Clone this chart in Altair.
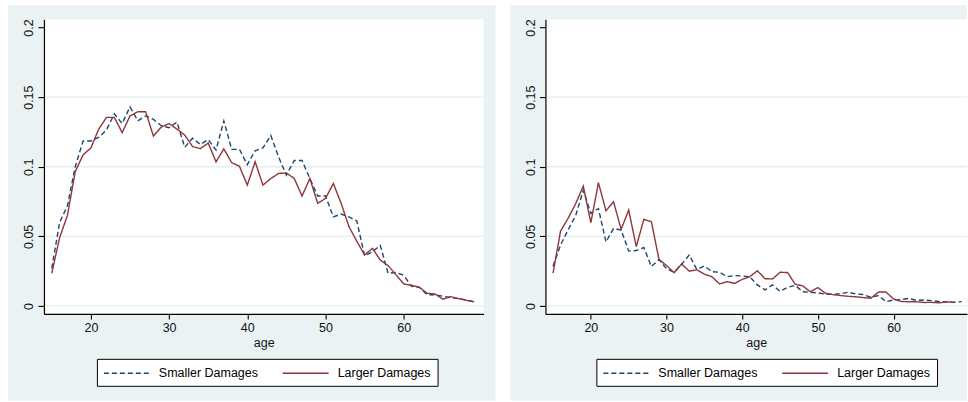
import altair as alt
import pandas as pd

# ---------------- data ----------------
SERIES = ["Smaller Damages", "Larger Damages"]

left_ages_small = list(range(15, 70))
left_small = [0.027, 0.060, 0.072, 0.100, 0.1185, 0.1185, 0.121, 0.1265, 0.138, 0.131,
              0.143, 0.133, 0.1365, 0.134, 0.1295, 0.128, 0.132, 0.114, 0.1205, 0.116,
              0.1195, 0.112, 0.133, 0.1125, 0.1125, 0.1015, 0.1115, 0.1135, 0.1225, 0.107,
              0.094, 0.1045, 0.1045, 0.0915, 0.079, 0.079, 0.064, 0.066, 0.064, 0.061,
              0.036, 0.039, 0.0435, 0.0235, 0.024, 0.022, 0.014, 0.0134, 0.008, 0.008,
              0.007, 0.006, 0.0053, 0.0043, 0.003]
left_ages_large = list(range(15, 70))
left_large = [0.0235, 0.049, 0.065, 0.0965, 0.1085, 0.1135, 0.127, 0.1355, 0.1355, 0.1245,
              0.1365, 0.1395, 0.1395, 0.122, 0.1285, 0.131, 0.127, 0.1228, 0.1145, 0.113,
              0.117, 0.1035, 0.1128, 0.103, 0.1003, 0.0868, 0.1036, 0.0868, 0.0915, 0.0952,
              0.0955, 0.0916, 0.079, 0.0916, 0.0737, 0.0773, 0.088, 0.0737, 0.057, 0.0465,
              0.0366, 0.0414, 0.033, 0.029, 0.0225, 0.0158, 0.0148, 0.0134, 0.0091, 0.0086,
              0.0048, 0.0067, 0.0053, 0.004, 0.003]

right_ages_small = list(range(15, 70))
right_small = [0.0285, 0.0438, 0.0547, 0.065, 0.083, 0.0665, 0.070, 0.046, 0.0557, 0.0545,
               0.0395, 0.0398, 0.042, 0.0283, 0.0333, 0.0267, 0.0242, 0.030, 0.0366, 0.0262,
               0.0287, 0.0246, 0.0242, 0.021, 0.0218, 0.0215, 0.021, 0.0151, 0.0115, 0.0151,
               0.0105, 0.0134, 0.0148, 0.0102, 0.0098, 0.0094, 0.0084, 0.0084, 0.0088, 0.0098,
               0.0086, 0.0082, 0.0062, 0.0075, 0.0031, 0.0043, 0.0046, 0.0054, 0.004, 0.0043,
               0.0038, 0.0032, 0.003, 0.0027, 0.0031]
right_ages_large = list(range(15, 69))
right_large = [0.0235, 0.0538, 0.063, 0.0735, 0.0861, 0.0598, 0.0885, 0.0684, 0.0749, 0.055,
               0.0689, 0.0426, 0.0622, 0.0605, 0.0335, 0.029, 0.0239, 0.0301, 0.025, 0.026,
               0.0228, 0.021, 0.0158, 0.0175, 0.0162, 0.0191, 0.021, 0.0253, 0.0196, 0.0194,
               0.0242, 0.024, 0.0156, 0.0144, 0.0102, 0.0132, 0.0091, 0.0081, 0.0075, 0.0069,
               0.0066, 0.006, 0.0055, 0.010, 0.010, 0.005, 0.0032, 0.003, 0.003, 0.0025,
               0.0026, 0.0022, 0.003, 0.0025]

X_TICKS = [20, 30, 40, 50, 60]
Y_TICKS = [0, 0.05, 0.1, 0.15, 0.2]
GRID_VALUES = [0, 0.05, 0.1, 0.15]

# ---------------- style ----------------
FONT = "Liberation Sans"
NAVY = "#1a476f"
MAROON = "#90353b"
BG = "#eaf2f3"
GRID = "#e4eef0"
H = 295
Y_DOMAIN = [-0.0057, 0.206]


def make_panel(ages_s, small, ages_l, large, W, xdom, bg_left, bg_right, legend_x):
    df = pd.concat([
        pd.DataFrame({"age": ages_s, "density": small, "series": SERIES[0]}),
        pd.DataFrame({"age": ages_l, "density": large, "series": SERIES[1]}),
    ], ignore_index=True)
    xs = alt.Scale(domain=xdom, nice=False, zero=False)
    ys = alt.Scale(domain=Y_DOMAIN, nice=False, zero=False)
    yaxis = alt.Axis(values=Y_TICKS, labelAngle=270, format="~g", zindex=2,
                     title=None, grid=False, labelPadding=2, tickSize=6)
    xaxis = alt.Axis(values=X_TICKS, title="age", grid=False, zindex=2,
                     labelPadding=3, titlePadding=2, tickSize=5)
    one = pd.DataFrame({"k": [0]})

    bg = alt.Chart(one).mark_rect(color=BG).encode(
        x=alt.value(bg_left), x2=alt.value(W + bg_right),
        y=alt.value(-14), y2=alt.value(H + 87))
    white = alt.Chart(one).mark_rect(color="white").encode(
        x=alt.value(0), x2=alt.value(W), y=alt.value(0), y2=alt.value(H))
    grid = alt.Chart(pd.DataFrame({"density": GRID_VALUES})).mark_rule(
        color=GRID, strokeWidth=1.3).encode(
        y=alt.Y("density:Q", scale=ys, axis=yaxis),
        x=alt.value(0), x2=alt.value(W))

    legend = alt.Legend(
        orient="none", legendX=legend_x, legendY=340, direction="horizontal",
        title=None, symbolType="M-1,0H5.13", symbolSize=225, symbolStrokeWidth=1.4,
        labelFont=FONT, labelFontSize=12.5, labelColor="black",
        strokeColor="black", fillColor="white", padding=6,
        columnPadding=21, labelOffset=39)

    base = alt.Chart(df).mark_line(strokeWidth=1.4).encode(
        x=alt.X("age:Q", scale=xs, axis=xaxis),
        y=alt.Y("density:Q", scale=ys, axis=yaxis),
        color=alt.Color("series:N", scale=alt.Scale(domain=SERIES, range=[NAVY, MAROON]),
                        legend=legend),
        strokeDash=alt.StrokeDash("series:N",
                                  scale=alt.Scale(domain=SERIES, range=[[5, 3], [1, 0]]),
                                  legend=legend),
    )
    blue = base.transform_filter(alt.datum.series == SERIES[0])
    red = base.transform_filter(alt.datum.series == SERIES[1])
    return alt.layer(bg, white, grid, blue, red).properties(width=W, height=H)


left = make_panel(left_ages_small, left_small, left_ages_large, left_large,
                  440, [14, 70.2], -36, 12, 53)
right = make_panel(right_ages_small, right_small, right_ages_large, right_large,
                   422, [14, 69.7], -35, 0, 51)

chart = alt.hconcat(left, right, spacing=15).resolve_scale(
    color="independent", strokeDash="independent", x="independent", y="independent"
).resolve_legend(color="independent", strokeDash="independent").properties(
    padding={"left": 8, "top": 5, "right": 0, "bottom": 0},
    background="white",
).configure_view(stroke=None).configure_axis(
    domainColor="black", domainWidth=1.2, tickColor="black", tickWidth=1.1,
    labelFont=FONT, labelFontSize=12.5, labelColor="#111",
    titleFont=FONT, titleFontSize=12.5, titleFontWeight="normal", titleColor="#111",
)

chart.save("out.html", embed_options={"renderer": "svg", "actions": False})
